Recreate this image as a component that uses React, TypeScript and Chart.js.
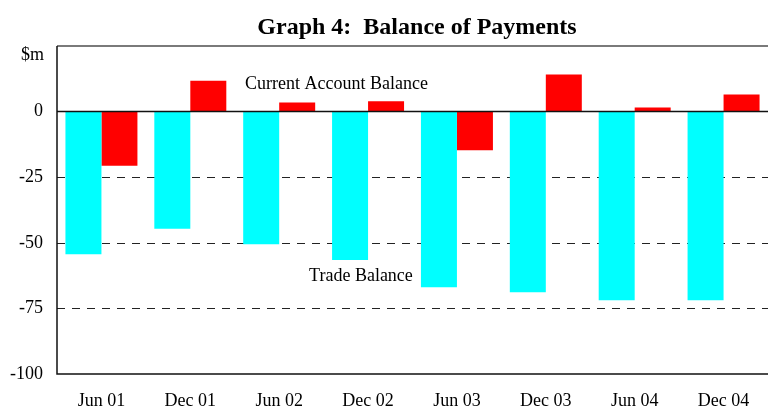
import React, { useEffect, useRef } from "react";
import { Chart, registerables } from "chart.js";

Chart.register(...registerables);

const categories = ["Jun 01", "Dec 01", "Jun 02", "Dec 02", "Jun 03", "Dec 03", "Jun 04", "Dec 04"];
const tradeBalance = [-54.4, -44.6, -50.6, -56.6, -66.9, -68.8, -71.9, -71.9];
const currentAccount = [-20.6, 11.8, 3.5, 3.9, -14.7, 14.1, 1.6, 6.5];
const yTicks = [25, 0, -25, -50, -75, -100];
const dashedLevels = [-25, -50, -75];
const title = "Graph 4:  Balance of Payments";
const unitLabel = "$m";
const annotations = [
  { text: "Current Account Balance", x: 2.645, y: 10.4 },
  { text: "Trade Balance", x: 2.92, y: -62.8 },
];

const FONT = "'Liberation Serif', 'Times New Roman', serif";

const decorPlugin = {
  id: "decor",
  beforeDatasetsDraw(chart: any) {
    const { ctx, chartArea, scales } = chart;
    const y = scales.y;
    ctx.save();
    ctx.strokeStyle = "#222";
    ctx.lineWidth = 1;
    ctx.setLineDash([8, 7]);
    dashedLevels.forEach((v) => {
      const py = Math.round(y.getPixelForValue(v)) + 0.5;
      ctx.beginPath();
      ctx.moveTo(chartArea.left, py);
      ctx.lineTo(chartArea.right, py);
      ctx.stroke();
    });
    ctx.restore();
  },
  afterDatasetsDraw(chart: any) {
    const { ctx, chartArea, scales } = chart;
    const y = scales.y;
    const x = scales.x;
    ctx.save();
    // top border
    ctx.strokeStyle = "#7a7a7a";
    ctx.lineWidth = 2;
    ctx.beginPath();
    ctx.moveTo(chartArea.left, chartArea.top);
    ctx.lineTo(chartArea.right, chartArea.top);
    ctx.stroke();
    // zero line
    ctx.strokeStyle = "#111";
    ctx.lineWidth = 1.5;
    const zy = y.getPixelForValue(0);
    ctx.beginPath();
    ctx.moveTo(chartArea.left, zy);
    ctx.lineTo(chartArea.right, zy);
    ctx.stroke();
    // bottom and left axes
    ctx.lineWidth = 1.5;
    ctx.beginPath();
    ctx.moveTo(chartArea.left, chartArea.top);
    ctx.lineTo(chartArea.left, chartArea.bottom);
    ctx.lineTo(chartArea.right, chartArea.bottom);
    ctx.stroke();
    // title
    ctx.fillStyle = "#000";
    ctx.font = `bold 24px ${FONT}`;
    ctx.textAlign = "center";
    ctx.textBaseline = "middle";
    ctx.fillText(title, 417, 28);
    // unit label
    ctx.font = `18px ${FONT}`;
    ctx.textAlign = "right";
    ctx.fillText(unitLabel, chartArea.left - 13, chartArea.top + 9);
    // annotations
    ctx.textAlign = "center";
    annotations.forEach((a) => {
      ctx.fillText(a.text, x.getPixelForValue(a.x), y.getPixelForValue(a.y));
    });
    ctx.restore();
  },
};

export default function App() {
  const ref = useRef<HTMLCanvasElement>(null);
  useEffect(() => {
    if (!ref.current) return;
    const chart = new Chart(ref.current, {
      type: "bar",
      data: {
        labels: categories,
        datasets: [
          {
            label: "Trade Balance",
            data: tradeBalance,
            backgroundColor: "#00FFFF",
            borderWidth: 0,
            categoryPercentage: 0.81,
            barPercentage: 1.0,
          },
          {
            label: "Current Account Balance",
            data: currentAccount,
            backgroundColor: "#FF0000",
            borderWidth: 0,
            categoryPercentage: 0.81,
            barPercentage: 1.0,
          },
        ],
      },
      options: {
        responsive: false,
        animation: false,
        layout: { padding: { top: 46, right: 0, left: 0, bottom: 0 } },
        plugins: {
          legend: { display: false },
          tooltip: { enabled: false },
          title: { display: false },
        },
        scales: {
          x: {
            grid: { display: false, drawTicks: false },
            border: { display: false },
            ticks: {
              color: "#000",
              font: { family: FONT, size: 18 },
              padding: 16,
              maxRotation: 0,
              autoSkip: false,
            },
            afterFit(scale: any) {
              scale.height = 34;
            },
          },
          y: {
            min: -100,
            max: 25,
            afterBuildTicks(scale: any) {
              scale.ticks = yTicks.map((v) => ({ value: v }));
            },
            grid: { display: false, drawTicks: false },
            border: { display: false },
            ticks: {
              color: "#000",
              font: { family: FONT, size: 18 },
              padding: 14,
              callback: (v: any) => (v === 25 ? "" : String(v)),
            },
            afterFit(scale: any) {
              scale.width = 57;
            },
          },
        },
      },
      plugins: [decorPlugin],
    });
    return () => chart.destroy();
  }, []);
  return (
    <div style={{ position: "absolute", left: 0, top: 0, width: 768, height: 408, background: "#fff" }}>
      <canvas ref={ref} width={768} height={408} style={{ display: "block" }} />
    </div>
  );
}
